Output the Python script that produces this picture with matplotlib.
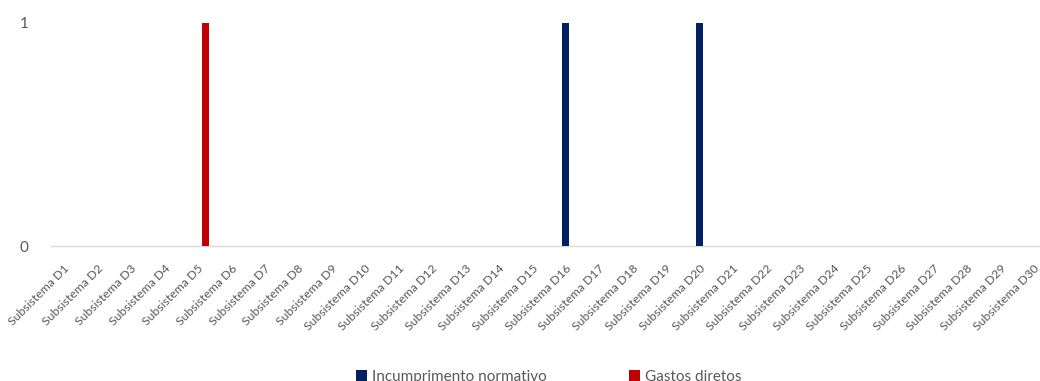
import matplotlib
matplotlib.use("Agg")
import matplotlib.pyplot as plt
import numpy as np

categories = [f"Subsistema D{i}" for i in range(1, 31)]
incumprimento = [0]*15 + [1] + [0]*3 + [1] + [0]*10
gastos = [0]*4 + [1] + [0]*25
series_names = ["Incumprimento normativo", "Gastos diretos"]
colors = ["#002060", "#C00000"]

plt.rcParams["font.family"] = ["Lato", "DejaVu Sans"]

W, H = 1040, 381
fig = plt.figure(figsize=(W/100, H/100), dpi=100)
ax = fig.add_axes([51/W, (H-246)/H, 1003.5/W, 223/H])

x = np.arange(len(categories))
bw = 0.21
ax.bar(x - bw/2, incumprimento, bw, color=colors[0], label=series_names[0], zorder=3)
ax.bar(x + bw/2, gastos, bw, color=colors[1], label=series_names[1], zorder=3)

ax.set_xlim(-0.5, len(categories) - 0.5)
ax.set_ylim(0, 1)
ax.set_yticks([0, 1])
ax.set_yticklabels(["0", "1"])
ax.set_xticks(x)
ax.set_xticklabels(categories, rotation=45, ha="right", va="center",
                   rotation_mode="anchor", fontsize=8.8, color="#595959")
ax.tick_params(axis="x", length=0, pad=15)
ax.tick_params(axis="y", length=0, pad=16, labelsize=11, labelcolor="#595959")
for s in ["top", "right", "left"]:
    ax.spines[s].set_visible(False)
ax.spines["bottom"].set_color("#d9d9d9")
ax.spines["bottom"].set_linewidth(1)

leg = fig.legend(loc="center", bbox_to_anchor=(549/W, (H-377)/H), ncol=2,
                 frameon=False, fontsize=11, handlelength=0.7, handleheight=0.7,
                 handletextpad=0.35, columnspacing=5.4)
for t in leg.get_texts():
    t.set_color("#595959")

fig.savefig("out.png", dpi=100)
